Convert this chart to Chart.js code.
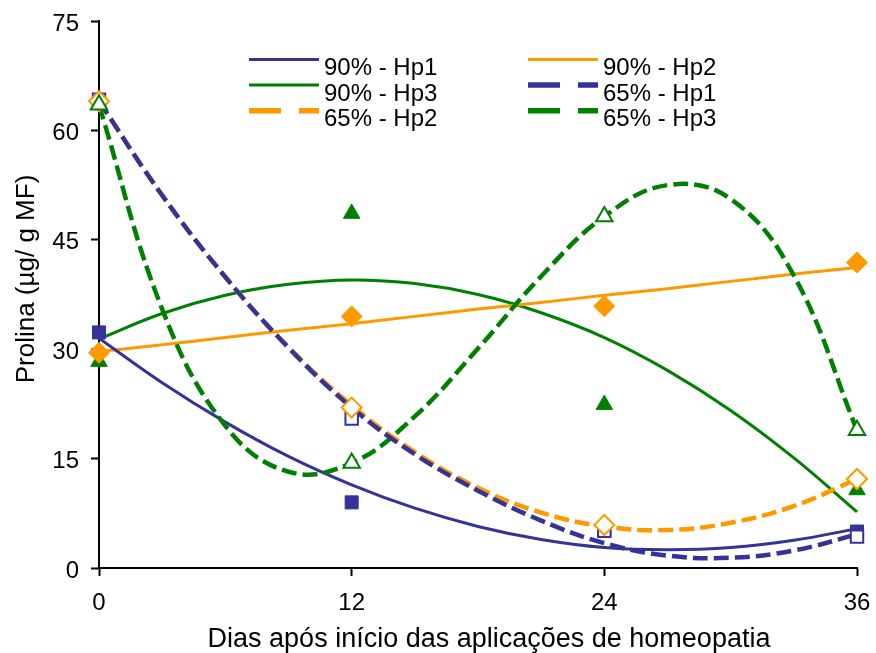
<!DOCTYPE html>
<html>
<head>
<meta charset="utf-8">
<script src="https://cdn.jsdelivr.net/npm/chart.js@4.4.1/dist/chart.umd.min.js"></script>
<style>
html,body{margin:0;padding:0;background:#ffffff;}
#wrap{width:876px;height:653px;position:relative;}
</style>
</head>
<body>
<div id="wrap"><canvas id="c" width="876" height="653"></canvas></div>
<script>
// ---- data ----
const sampleDays = [0, 12, 24, 36];
const xTickValues = [0, 12, 24, 36];
const yTickValues = [0, 15, 30, 45, 60, 75];
const seriesLabels = ['90% - Hp1', '90% - Hp2', '90% - Hp3', '65% - Hp1', '65% - Hp2', '65% - Hp3'];

// measured means (markers)
const points90Hp1 = [32.3, 9.0, 5.2, 5.0];
const points90Hp2 = [29.5, 34.5, 35.9, 41.9];
const points90Hp3 = [28.3, 48.6, 22.4, 10.7];
const points65Hp1 = [64.2, 20.5, 5.1, 4.3];
const points65Hp2 = [64.0, 22.0, 5.9, 12.2];
const points65Hp3 = [63.5, 14.4, 48.2, 18.9];

// trend curves
const trendDays = [0, 3, 6, 9, 12, 15, 18, 21, 24, 27, 30, 33, 36];
const trend90Hp1 = [31.5, 25.4, 20.0, 15.3, 11.4, 8.2, 5.7, 3.9, 2.8, 2.5, 2.8, 3.8, 5.4];
const trend90Hp2 = [29.7, 30.6, 31.6, 32.6, 33.5, 34.5, 35.5, 36.4, 37.4, 38.3, 39.3, 40.3, 41.2];
const trend90Hp3 = [31.4, 34.9, 37.4, 38.9, 39.5, 39.0, 37.5, 35.0, 31.6, 27.1, 21.6, 15.1, 7.7];
const trend65Hp1 = [64.0, 51.1, 39.9, 30.2, 22.0, 15.6, 10.6, 6.5, 3.4, 1.7, 1.4, 2.4, 4.6];
const trend65Hp2 = [64.0, 51.1, 39.9, 30.3, 22.3, 15.9, 11.0, 7.6, 5.7, 5.2, 6.2, 8.5, 12.2];
const trend65Hp3 = [63.5, 35.5, 19.5, 13.2, 14.4, 20.8, 30.1, 40.0, 48.2, 52.5, 50.6, 40.1, 18.9];

const xTitle = 'Dias após início das aplicações de homeopatia';
const yTitle = 'Prolina (µg/ g MF)';

// ---- styling ----
const BLUE = '#333399', ORANGE = '#FF9900', GREEN = '#008000';
const FONT = '"Liberation Sans", Arial, Helvetica, sans-serif';
const DASH = [15, 6];

function pts(xs, ys) { return xs.map((x, i) => ({ x: x, y: ys[i] })); }

function trend(label, ys, color, dashed) {
  return {
    label: label, isTrend: true, data: pts(trendDays, ys),
    borderColor: color, backgroundColor: color,
    borderWidth: dashed ? 4.5 : 3, borderDash: dashed ? DASH : [],
    pointRadius: 0, pointHoverRadius: 0, tension: 0.4, fill: false,
    showLine: true, order: dashed ? 4 : 5, clip: false
  };
}
function markers(label, ys, color, style, radius, open, order) {
  return {
    label: label + ' (média)', isTrend: false, data: pts(sampleDays, ys),
    showLine: false, pointStyle: style, pointRadius: radius, pointHoverRadius: radius,
    pointBackgroundColor: open ? '#ffffff' : color, pointBorderColor: color,
    pointBorderWidth: open ? 2 : 1, borderColor: color, backgroundColor: color,
    order: order, clip: false
  };
}

const datasets = [
  trend(seriesLabels[0], trend90Hp1, BLUE, false),
  trend(seriesLabels[1], trend90Hp2, ORANGE, false),
  trend(seriesLabels[2], trend90Hp3, GREEN, false),
  trend(seriesLabels[3], trend65Hp1, BLUE, true),
  trend(seriesLabels[4], trend65Hp2, ORANGE, true),
  trend(seriesLabels[5], trend65Hp3, GREEN, true),
  markers(seriesLabels[0], points90Hp1, BLUE, 'rect', 9.2, false, 3),
  markers(seriesLabels[1], points90Hp2, ORANGE, 'rectRot', 10.5, false, 3),
  markers(seriesLabels[2], points90Hp3, GREEN, 'triangle', 9.5, false, 3),
  markers(seriesLabels[3], points65Hp1, BLUE, 'rect', 8.8, true, 2),
  markers(seriesLabels[4], points65Hp2, ORANGE, 'rectRot', 10, true, 1),
  markers(seriesLabels[5], points65Hp3, GREEN, 'triangle', 9.5, true, 0)
];

// legend + axis titles drawn like the spreadsheet original
const sheetPlugin = {
  id: 'sheetDecor',
  afterDraw(chart) {
    const ctx = chart.ctx;
    const items = chart.data.datasets.filter(d => d.isTrend);
    const colX = [249, 528];
    ctx.save();
    ctx.font = '24px ' + FONT;
    ctx.fillStyle = '#000';
    ctx.textBaseline = 'alphabetic';
    ctx.textAlign = 'left';
    items.forEach((d, i) => {
      const col = i % 2, row = Math.floor(i / 2);
      const x0 = colX[col];
      const yLine = 59.5 + row * 25.6;
      const dashed = d.borderDash && d.borderDash.length;
      ctx.strokeStyle = d.borderColor;
      ctx.lineWidth = dashed ? 5.5 : 3;
      ctx.setLineDash(dashed ? [32, 18] : []);
      ctx.beginPath();
      ctx.moveTo(x0, yLine);
      ctx.lineTo(x0 + 70, yLine);
      ctx.stroke();
      ctx.setLineDash([]);
      ctx.fillText(d.label, x0 + 75, yLine + 15.5);
    });
    // x axis title
    ctx.font = '27px ' + FONT;
    ctx.textAlign = 'center';
    ctx.fillText(xTitle, 489, 646.5);
    // y axis title
    ctx.font = '26px ' + FONT;
    ctx.translate(33.5, 279);
    ctx.rotate(-Math.PI / 2);
    ctx.fillText(yTitle, 0, 0);
    ctx.restore();
  }
};

new Chart(document.getElementById('c'), {
  type: 'scatter',
  data: { datasets: datasets },
  options: {
    responsive: false, animation: false, devicePixelRatio: 1,
    layout: { padding: { top: 21, right: 19, bottom: 0, left: 0 } },
    plugins: { legend: { display: false }, tooltip: { enabled: false }, title: { display: false } },
    events: [],
    scales: {
      x: {
        type: 'linear', min: 0, max: 36,
        afterBuildTicks: s => { s.ticks = xTickValues.map(v => ({ value: v })); },
        afterFit: s => { s.height = 85; s.paddingLeft = 0; s.paddingRight = 0; },
        ticks: { color: '#000', font: { family: FONT, size: 24 }, padding: 13, maxRotation: 0 },
        grid: { display: true, drawOnChartArea: false, drawTicks: true, tickLength: 8, tickWidth: 2, tickColor: '#000' },
        border: { display: true, color: '#000', width: 2 },
        title: { display: false }
      },
      y: {
        type: 'linear', min: 0, max: 75,
        afterBuildTicks: s => { s.ticks = yTickValues.map(v => ({ value: v })); },
        afterFit: s => { s.width = 99; s.paddingTop = 0; s.paddingBottom = 0; },
        ticks: { color: '#000', font: { family: FONT, size: 24 }, padding: 12, labelOffset: 3 },
        grid: { display: true, drawOnChartArea: false, drawTicks: true, tickLength: 8, tickWidth: 2, tickColor: '#000' },
        border: { display: true, color: '#000', width: 2 },
        title: { display: false }
      }
    }
  },
  plugins: [sheetPlugin]
});
</script>
</body>
</html>
